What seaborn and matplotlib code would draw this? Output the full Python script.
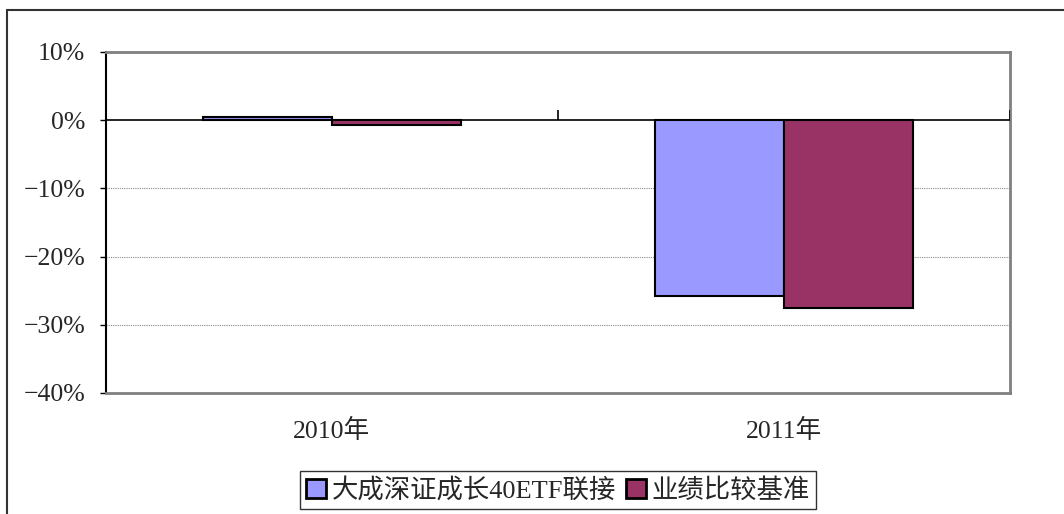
import numpy as np
import pandas as pd
import matplotlib
matplotlib.use('Agg')
import matplotlib.pyplot as plt
import seaborn as sns
from matplotlib.patches import Rectangle

years = ['2010年', '2011年']
series = ['大成深证成长40ETF联接', '业绩比较基准']
fund_vals = [0.4, -25.8]
bench_vals = [-0.7, -27.6]
yticks = [10, 0, -10, -20, -30, -40]

colors = {'大成深证成长40ETF联接': '#9999ff', '业绩比较基准': '#993366'}

df = pd.DataFrame({'year': years * 2,
                   'series': [series[0]] * 2 + [series[1]] * 2,
                   'value': fund_vals + bench_vals})

sns.set_style('white')
plt.rcParams['font.family'] = ['Liberation Serif', 'Noto Sans CJK SC']
plt.rcParams['axes.unicode_minus'] = True

fig = plt.figure(figsize=(10.64, 5.14), dpi=100)
ax = fig.add_axes([106/1064, 1-393/514, (1010-106)/1064, (393-52)/514])

sns.barplot(data=df, x='year', y='value', hue='series', palette=colors,
            width=0.57, edgecolor='black', linewidth=1.5, saturation=1,
            ax=ax, legend=True)

ax.set_ylim(-40, 10)
ax.set_xlim(-0.5, 1.5)
ax.set_yticks(yticks)
ax.set_yticklabels([(f'{v}%').replace('-', '\u2212') for v in yticks],
                   fontsize=18.5)
for v in [-10, -20, -30]:
    ax.axhline(v, color='#888888', lw=0.8, ls=(0, (1, 1)), zorder=0)
ax.axhline(0, color='black', lw=1.2, zorder=3)
# category boundary ticks on the zero axis
ax.vlines([-0.5, 0.5, 1.5], 0, 1.5, color='black', lw=1.2, zorder=3)

ax.set_xlabel('')
ax.set_ylabel('')
ax.tick_params(axis='x', length=0, labelsize=18.5, pad=19)
ax.tick_params(axis='y', left=True, length=4, width=1, color='black',
               direction='out', pad=11)

for s in ['top', 'right', 'bottom']:
    ax.spines[s].set_color('#808080')
    ax.spines[s].set_linewidth(2)
ax.spines['left'].set_color('black')
ax.spines['left'].set_linewidth(1.5)

ax.legend(loc='upper center', bbox_to_anchor=(558/1064, 1-471/514),
          bbox_transform=fig.transFigure, ncol=2, fontsize=19,
          frameon=True, fancybox=False, edgecolor='black',
          handlelength=0.75, handleheight=0.75, handletextpad=0.2,
          columnspacing=0.4, borderpad=0.25, borderaxespad=0)
leg = ax.get_legend()
leg.get_frame().set_linewidth(1.0)
for h in leg.legend_handles:
    h.set_edgecolor('black')
    h.set_linewidth(2)

# outer chart border
fig.patches.append(Rectangle((7/1064, -0.1), 1.2, 1-10/514+0.1,
                             transform=fig.transFigure, fill=False,
                             edgecolor='#333333', lw=1.5))

fig.savefig('out.png', dpi=100)
